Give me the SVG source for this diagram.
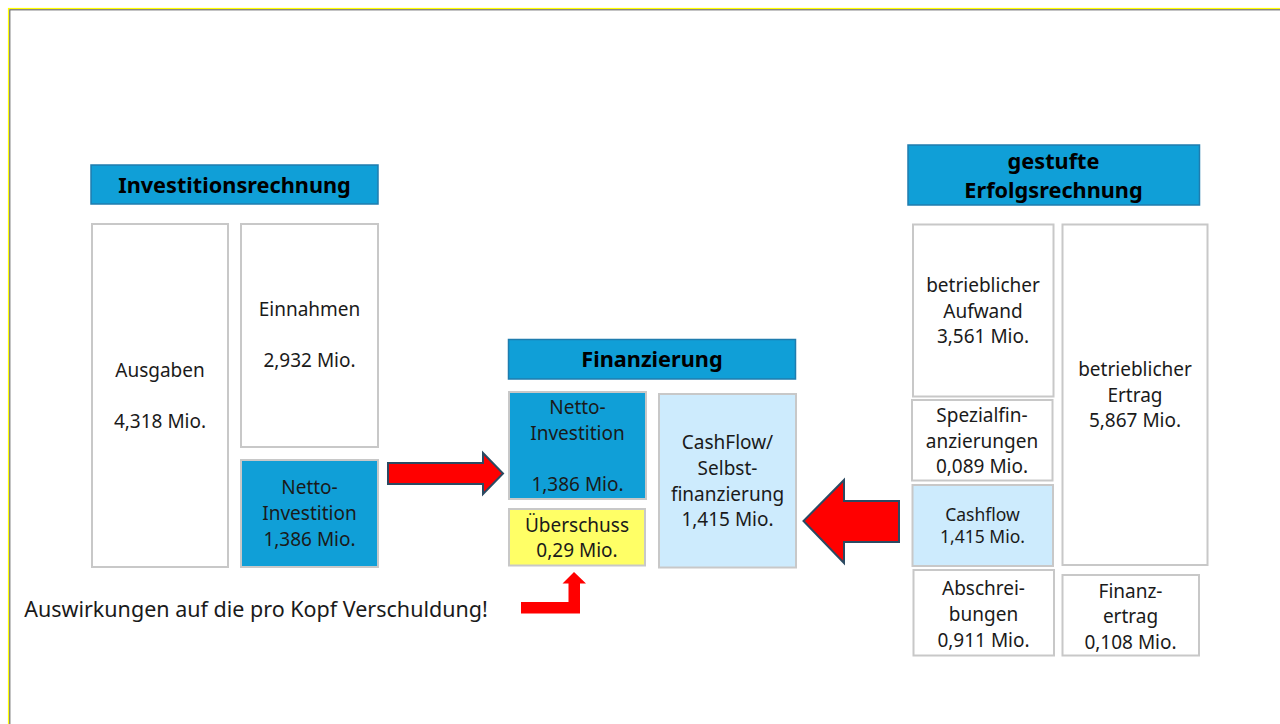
<svg xmlns="http://www.w3.org/2000/svg" width="1280" height="724" viewBox="0 0 1280 724">
<style>
text{font-family:"Noto Sans","Open Sans","Liberation Sans",sans-serif;fill:#1a1a1a;text-anchor:middle}
.t{font-size:19px}
.s{font-size:17.5px}
.h{font-size:21.7px;font-weight:bold;fill:#000}
.box{fill:#ffffff;stroke:#c8c8c8;stroke-width:2}
.blue{fill:#109fd7;stroke:#c8c8c8;stroke-width:2}
.hdr{fill:#109fd7;stroke:#1f7cae;stroke-width:1.5}
.lb{fill:#cdebfd;stroke:#c8c8c8;stroke-width:2}
.yl{fill:#ffff66;stroke:#c8c8c8;stroke-width:2}
.arr{fill:#ff0000;stroke:#2b4a62;stroke-width:2;stroke-linejoin:miter}
.arr2{fill:#ff0000}
</style>
<rect x="0" y="0" width="1280" height="724" fill="#ffffff"/>
<rect x="8.5" y="8.5" width="1300" height="800" fill="none" stroke="#ffff00" stroke-width="1.2"/>
<rect x="9.8" y="9.8" width="1300" height="800" fill="none" stroke="#6b6b6b" stroke-width="1.2"/>

<g id="hdr-investition">
<rect class="hdr" x="91" y="165" width="287" height="39"/>
<text class="h" x="234.5" y="192.5">Investitionsrechnung</text>
</g>
<g id="ausgaben">
<rect class="box" x="92" y="224" width="136" height="343"/>
<text class="t" x="160" y="377">Ausgaben</text>
<text class="t" x="160" y="428">4,318 Mio.</text>
</g>
<g id="einnahmen">
<rect class="box" x="241" y="224" width="137" height="223"/>
<text class="t" x="309.5" y="316">Einnahmen</text>
<text class="t" x="309.5" y="367">2,932 Mio.</text>
</g>
<g id="netto-left">
<rect class="blue" x="241" y="460" width="137" height="107"/>
<text class="t" x="309.5" y="494">Netto-</text>
<text class="t" x="309.5" y="520">Investition</text>
<text class="t" x="309.5" y="546">1,386 Mio.</text>
</g>

<g id="hdr-finanzierung">
<rect class="hdr" x="508.5" y="339.5" width="287" height="39.5"/>
<text class="h" x="652" y="367">Finanzierung</text>
</g>
<g id="netto-mid">
<rect class="blue" x="509" y="392" width="137" height="107"/>
<text class="t" x="577.5" y="414">Netto-</text>
<text class="t" x="577.5" y="439.5">Investition</text>
<text class="t" x="577.5" y="491">1,386 Mio.</text>
</g>
<g id="ueberschuss">
<rect class="yl" x="509" y="509" width="136" height="56.5"/>
<text class="t" x="577" y="531.5">Überschuss</text>
<text class="t" x="577" y="557">0,29 Mio.</text>
</g>
<g id="cashflow-mid">
<rect class="lb" x="659" y="394" width="137" height="173.5"/>
<text class="t" x="727.5" y="449">CashFlow/</text>
<text class="t" x="727.5" y="475">Selbst-</text>
<text class="t" x="727.5" y="501">finanzierung</text>
<text class="t" x="727.5" y="526">1,415 Mio.</text>
</g>

<g id="hdr-erfolg">
<rect class="hdr" x="908" y="145" width="291.5" height="60"/>
<text class="h" x="1053.5" y="168.5">gestufte</text>
<text class="h" x="1053.5" y="197.5">Erfolgsrechnung</text>
</g>
<g id="aufwand">
<rect class="box" x="913" y="224.5" width="140.5" height="172"/>
<text class="t" x="983" y="292">betrieblicher</text>
<text class="t" x="983" y="317.5">Aufwand</text>
<text class="t" x="983" y="343">3,561 Mio.</text>
</g>
<g id="spezial">
<rect class="box" x="912" y="400" width="140.5" height="80.5"/>
<text class="t" x="982" y="422">Spezialfin-</text>
<text class="t" x="982" y="447.5">anzierungen</text>
<text class="t" x="982" y="473">0,089 Mio.</text>
</g>
<g id="cashflow-right">
<rect class="lb" x="912.5" y="485" width="140.5" height="81"/>
<text class="s" x="982.5" y="520.5">Cashflow</text>
<text class="s" x="982.5" y="543">1,415 Mio.</text>
</g>
<g id="abschreibungen">
<rect class="box" x="913.5" y="570" width="140.5" height="85.5"/>
<text class="t" x="983.5" y="595">Abschrei-</text>
<text class="t" x="983.5" y="621">bungen</text>
<text class="t" x="983.5" y="646.5">0,911 Mio.</text>
</g>
<g id="ertrag">
<rect class="box" x="1062.5" y="224.5" width="145" height="340.5"/>
<text class="t" x="1135" y="376">betrieblicher</text>
<text class="t" x="1135" y="401.5">Ertrag</text>
<text class="t" x="1135" y="427">5,867 Mio.</text>
</g>
<g id="finanzertrag">
<rect class="box" x="1062.5" y="575" width="136.5" height="80.5"/>
<text class="t" x="1130.5" y="597.5">Finanz-</text>
<text class="t" x="1130.5" y="623">ertrag</text>
<text class="t" x="1130.5" y="648.5">0,108 Mio.</text>
</g>

<g id="note">
<text x="256" y="617" style="font-size:21.5px;text-anchor:middle">Auswirkungen auf die pro Kopf Verschuldung!</text>
</g>

<g id="connectors">
<polygon class="arr" points="388,463 483,463 483,453 503,473.5 483,494 483,484 388,484"/>
<polygon class="arr" points="899,501 844,501 844,480 803.5,521 844,563 844,542 899,542"/>
<polygon class="arr2" points="521,602 568.5,602 568.5,583.5 562.5,583.5 574,572 586,583.5 580,583.5 580,613.5 521,613.5"/>
</g>
</svg>
